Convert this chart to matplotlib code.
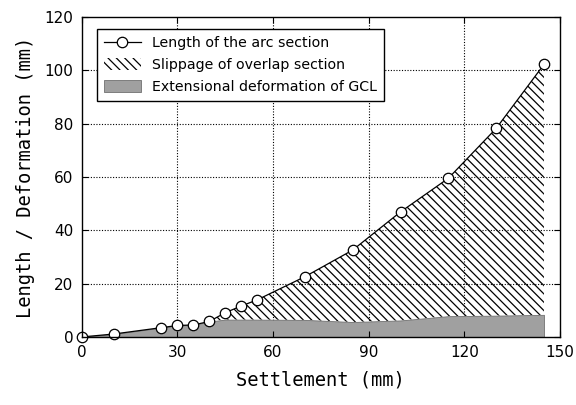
import matplotlib
matplotlib.use("Agg")
import matplotlib.pyplot as plt
import numpy as np

settlement = [0, 10, 25, 30, 35, 40, 45, 50, 55, 70, 85, 100, 115, 130, 145]
arc_length = [0, 1.1, 3.5, 4.3, 4.5, 5.8, 9.1, 11.6, 13.9, 22.6, 32.6, 46.9, 59.5, 78.2, 102.2]
gcl_ext    = [0, 1.1, 3.5, 4.3, 4.5, 5.8, 6.5, 6.5, 6.5, 6.4, 5.6, 6.2, 7.8, 8.0, 8.3]

xticks = [0, 30, 60, 90, 120, 150]
yticks = [0, 20, 40, 60, 80, 100, 120]

plt.rcParams['hatch.linewidth'] = 0.9
fig = plt.figure(figsize=(5.76, 4.05), dpi=100)
ax = fig.add_axes([0.142, 0.168, 0.830, 0.790])

x = np.array(settlement)
ya = np.array(arc_length)
yg = np.array(gcl_ext)

# grid drawn manually beneath fills
for xv in xticks[1:-1]:
    ax.axvline(xv, linestyle=(0, (1, 1.5)), color='black', linewidth=0.8, zorder=0.5)
for yv in yticks[1:-1]:
    ax.axhline(yv, linestyle=(0, (1, 1.5)), color='black', linewidth=0.8, zorder=0.5)

ax.fill_between(x, 0, yg, facecolor='#a0a0a0', edgecolor='#707070', linewidth=0.6,
                label='Extensional deformation of GCL', zorder=1.2)
ax.fill_between(x, yg, ya, facecolor='none', edgecolor='black', linewidth=0,
                hatch='\\\\\\\\', label='Slippage of overlap section', zorder=1)
ax.plot(x, ya, '-o', color='black', lw=0.9, markersize=7.5, markerfacecolor='white',
        markeredgecolor='black', markeredgewidth=0.9, label='Length of the arc section',
        zorder=4, clip_on=False)

ax.set_xlim(0, 150)
ax.set_ylim(0, 120)
ax.set_xticks(xticks)
ax.set_yticks(yticks)
ax.tick_params(direction='in', top=True, right=True, length=4, labelsize=11, pad=6)
for s in ax.spines.values():
    s.set_linewidth(1.0)
    s.set_zorder(5)

ax.set_xlabel('Settlement (mm)', family='DejaVu Sans Mono', fontsize=13.5, labelpad=7)
ax.set_ylabel('Length / Deformation (mm)', family='DejaVu Sans Mono', fontsize=13.5, labelpad=7)

h, l = ax.get_legend_handles_labels()
order = [2, 1, 0]
leg = ax.legend([h[i] for i in order], [l[i] for i in order], loc='upper left',
                bbox_to_anchor=(0.031, 0.962), fontsize=10.2, frameon=True, fancybox=False,
                edgecolor='black', framealpha=1, borderpad=0.5, labelspacing=0.55,
                handlelength=2.6, handleheight=0.9, handletextpad=0.8, borderaxespad=0)
leg.get_frame().set_linewidth(1.0)
leg.set_zorder(6)

fig.savefig('out.png', dpi=100)
